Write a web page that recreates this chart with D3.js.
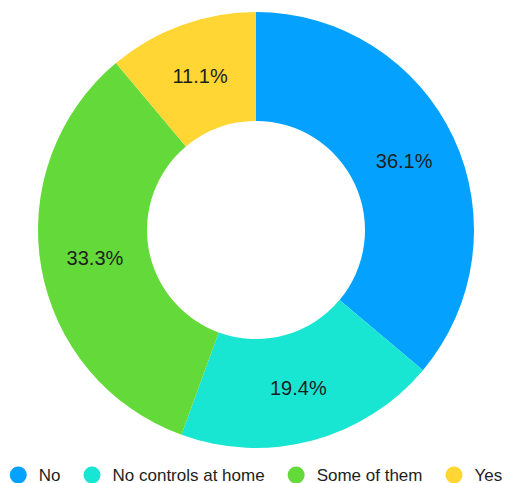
<!DOCTYPE html>
<html>
<head>
<meta charset="utf-8">
<script src="https://cdn.jsdelivr.net/npm/d3@7"></script>
<style>
    html, body { margin: 0; padding: 0; background: #fff; }
    svg { display: block; }
</style>
</head>
<body>
<svg id="SVGdonut" width="505" height="483"></svg>
<script>
// 数据
const categories = ["No", "No controls at home", "Some of them", "Yes"];
const values = [13, 7, 12, 4];
const colors = ["#04a2fe", "#19e6d2", "#64d93a", "#ffd634"];

const svg = d3.select("#SVGdonut");
const cx = 256, cy = 230;
const outerR = 218, innerR = 109;
const fontFamily = "'Liberation Sans', Arial, sans-serif";

const total = d3.sum(values);
const dataList = categories.map((c, i) => ({ name: c, value: values[i], color: colors[i] }));

const pie = d3.pie().value(d => d.value).sort(null);
const arc = d3.arc().innerRadius(innerR).outerRadius(outerR);
const labelArc = d3.arc().innerRadius((innerR + outerR) / 2).outerRadius((innerR + outerR) / 2);

const g = svg.append("g").attr("transform", `translate(${cx},${cy})`);

const arcs = pie(dataList);

g.selectAll("path")
    .data(arcs)
    .enter()
    .append("path")
    .attr("d", arc)
    .style("fill", d => d.data.color);

// 百分比标签
g.selectAll("text")
    .data(arcs)
    .enter()
    .append("text")
    .attr("transform", d => `translate(${labelArc.centroid(d)})`)
    .attr("text-anchor", "middle")
    .attr("dominant-baseline", "central")
    .style("font-family", fontFamily)
    .style("font-size", "20px")
    .style("fill", "#1e1e1e")
    .text(d => (d.data.value / total * 100).toFixed(1) + "%");

// 图例
const legend = svg.append("g");
const items = legend.selectAll("g")
    .data(dataList)
    .enter()
    .append("g");

items.append("circle")
    .attr("cx", 8.5)
    .attr("cy", 0)
    .attr("r", 8.5)
    .style("fill", d => d.color);

items.append("text")
    .attr("x", 29)
    .attr("y", 0)
    .attr("dominant-baseline", "central")
    .style("font-family", fontFamily)
    .style("font-size", "17px")
    .style("fill", "#1e1e1e")
    .text(d => d.name);

// 计算图例项位置并居中
let offset = 0;
const positions = [];
items.each(function () {
    const w = 29 + d3.select(this).select("text").node().getComputedTextLength();
    positions.push(offset);
    offset += w + 23;
});
const legendWidth = offset - 23;
const startX = cx - legendWidth / 2;
items.attr("transform", (d, i) => `translate(${startX + positions[i]},475)`);
</script>
</body>
</html>
